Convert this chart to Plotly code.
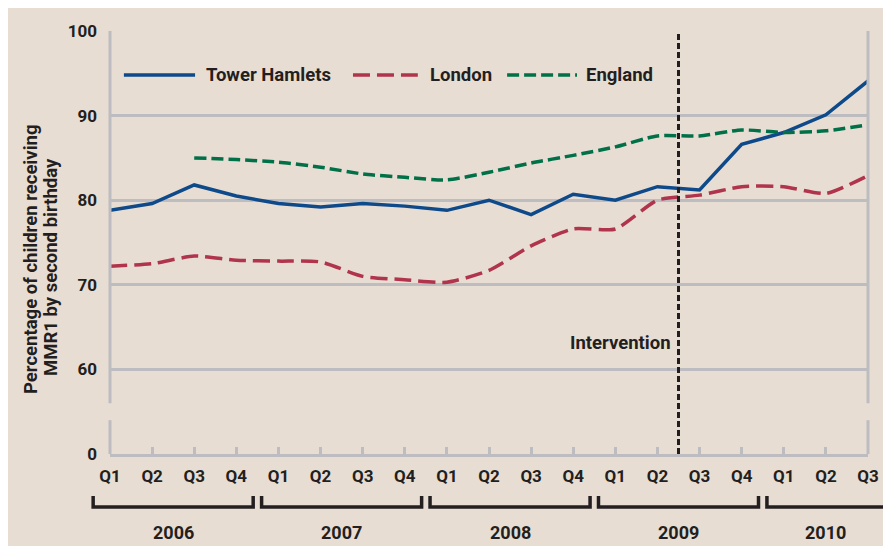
import plotly.graph_objects as go

# quarterly MMR1 coverage, 2006 Q1 .. 2010 Q3
quarters = ["Q1", "Q2", "Q3", "Q4"] * 4 + ["Q1", "Q2", "Q3"]
years = ["2006", "2007", "2008", "2009", "2010"]
tower_hamlets = [78.8, 79.6, 81.8, 80.5, 79.6, 79.2, 79.6, 79.3, 78.8, 80.0,
                 78.3, 80.7, 80.0, 81.6, 81.2, 86.6, 88.0, 90.1, 94.1]
london = [72.2, 72.5, 73.4, 72.9, 72.8, 72.7, 71.0, 70.6, 70.3, 71.7,
          74.6, 76.6, 76.6, 80.0, 80.6, 81.6, 81.6, 80.8, 82.9]
england = [None, None, 85.0, 84.8, 84.5, 83.9, 83.1, 82.7, 82.4, 83.3,
           84.4, 85.3, 86.3, 87.6, 87.6, 88.3, 88.0, 88.2, 88.9]
intervention_at = 13.5  # between 2009 Q2 and Q3
y_ticks = [50, 60, 70, 80, 90, 100]
y_labels = ["0", "60", "70", "80", "90", "100"]

BG = "#e8ddd3"
GRID = "#bdbdc1"
INK = "#231f20"
BLUE = "#0e4a8a"
RED = "#b0344b"
GREEN = "#007048"
FONT = "Roboto"

x = list(range(len(quarters)))
n = len(quarters) - 1

# plot area is 758 x 423 px; helpers turn pixel offsets into paper fractions
def px(v):
    return (v - 110) / 758

def py(v):
    return (454 - v) / 423

def bold(size):
    return dict(family=FONT, size=size, color=INK, weight="bold")

series = [
    ("Tower Hamlets", tower_hamlets, BLUE, "solid", "linear"),
    ("London", london, RED, "17px,7px", "spline"),
    ("England", england, GREEN, "12px,5px", "spline"),
]

fig = go.Figure()
for name, vals, col, dash, shp in series:
    fig.add_trace(go.Scatter(x=x, y=vals, name=name, mode="lines",
                             line=dict(color=col, dash=dash, shape=shp, width=3.5,
                                       smoothing=0.6),
                             showlegend=False))

shapes = []
# left and right axis lines with a break
for xp in (0, 1):
    for y0, y1 in ((50, 54), (56, 100)):
        shapes.append(dict(type="line", xref="paper", yref="y", x0=xp, x1=xp,
                           y0=y0, y1=y1, line=dict(color=GRID, width=3)))
# intervention line
shapes.append(dict(type="line", xref="x", yref="y", x0=intervention_at,
                   x1=intervention_at, y0=50, y1=100,
                   line=dict(color=INK, width=3, dash="6px,3px")))

# year brackets
starts = [0, 4, 8, 12, 16]
ends = [3, 7, 11, 15, 18]
yb, yt = py(507), py(496)
annotations = []
for yr, s, e in zip(years, starts, ends):
    a = (s - 0.4) / n
    b = (e + 0.4) / n
    shapes.append(dict(type="path", xref="paper", yref="paper",
                       path=f"M{a},{yt} L{a},{yb} L{b},{yb} L{b},{yt}",
                       line=dict(color=INK, width=3.5)))
    annotations.append(dict(xref="paper", yref="paper", x=(a + b) / 2,
                            y=py(532), xanchor="center", yanchor="middle",
                            text=yr, showarrow=False, font=bold(18)))

# legend drawn by hand so the line samples are long
legend_pos = [(0.33, 2.02, 2.23), (5.77, 7.31, 7.55), (9.43, 11.09, 11.26)]
for (name, vals, col, dash, shp), (l0, l1, tx) in zip(series, legend_pos):
    shapes.append(dict(type="line", xref="x", yref="y", x0=l0, x1=l1,
                       y0=94.8, y1=94.8, line=dict(color=col, width=3.5, dash=dash)))
    annotations.append(dict(xref="x", yref="y", x=tx, y=94.8, text=name,
                            xanchor="left", yanchor="middle", showarrow=False,
                            font=bold(18.5)))

annotations.append(dict(xref="x", yref="y", x=intervention_at, y=63.1,
                        text="Intervention", xanchor="right", yanchor="middle",
                        xshift=-6, showarrow=False, font=bold(18.5)))
for txt, cx, cy in (("Percentage of children receiving", 31, 260),
                    ("MMR1 by second birthday", 51, 267)):
    annotations.append(dict(xref="paper", yref="paper", x=px(cx), y=py(cy),
                            xanchor="center", yanchor="middle",
                            textangle=-90, text=txt, showarrow=False,
                            font=bold(18.5)))

fig.update_layout(
    width=891, height=546, autosize=False,
    margin=dict(l=102, r=31, t=23, b=100),
    paper_bgcolor=BG, plot_bgcolor=BG,
    shapes=shapes, annotations=annotations,
    font=dict(family=FONT, color=INK),
    xaxis=dict(range=[0, n], tickvals=x, ticktext=quarters, showgrid=False,
               zeroline=False, showline=True, linecolor=GRID, linewidth=3,
               ticks="inside", ticklen=7, tickwidth=3, tickcolor=GRID,
               ticklabelstandoff=5, tickfont=bold(17)),
    yaxis=dict(range=[50, 100], tickvals=y_ticks, ticktext=y_labels,
               showgrid=True, gridcolor=GRID, gridwidth=3, zeroline=False,
               showline=False, ticks="", ticklabelstandoff=12,
               tickfont=bold(17)),
)

fig.write_html("out.html")
